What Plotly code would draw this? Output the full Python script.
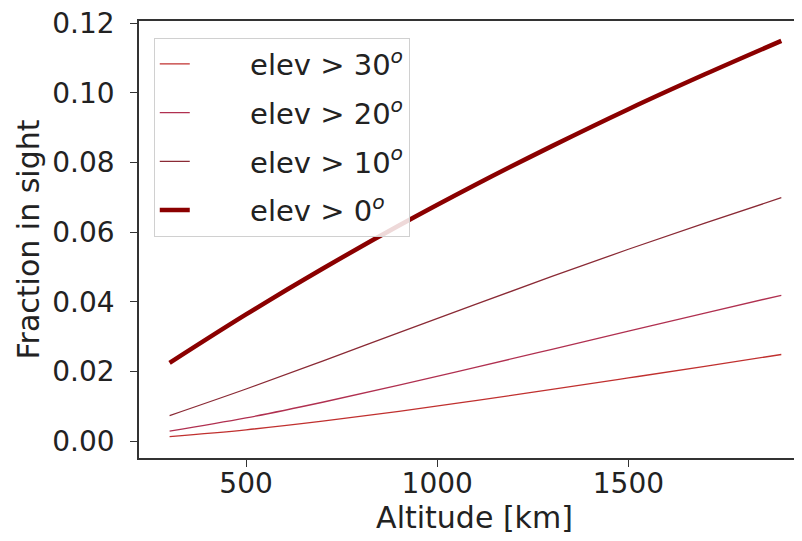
import plotly.graph_objects as go

altitude = [300, 500, 700, 900, 1100, 1300, 1500, 1700, 1900]
elev30 = [0.00134, 0.00329, 0.00578, 0.00860, 0.01165, 0.01487, 0.01817, 0.0215, 0.0249]
elev20 = [0.00291, 0.00669, 0.0112, 0.0161, 0.0212, 0.0264, 0.0316, 0.0368, 0.0419]
elev10 = [0.00737, 0.0150, 0.0230, 0.0312, 0.0393, 0.0473, 0.0551, 0.0626, 0.0699]
elev0 = [0.0225, 0.0364, 0.0495, 0.0619, 0.0736, 0.0847, 0.0953, 0.1053, 0.1149]

pad = "&nbsp;" * 6
labels = [pad + "elev > 30<sup><i>o</i></sup>", pad + "elev > 20<sup><i>o</i></sup>",
          pad + "elev > 10<sup><i>o</i></sup>", pad + "elev > 0<sup><i>o</i></sup>"]
colors = ["#c0302f", "#b03050", "#8a2a35", "#8b0000"]
widths = [1.3, 1.3, 1.3, 4.5]
series = [elev30, elev20, elev10, elev0]

fig = go.Figure()
for i, (lab, ys) in enumerate(zip(labels, series)):
    fig.add_trace(go.Scatter(x=altitude, y=ys, mode="lines", name=lab,
                             legendgroup=str(i), line_shape="spline",
                             line=dict(color=colors[i], width=widths[i])))

font = "DejaVu Sans, Arial, sans-serif"
fig.update_layout(
    width=802, height=541,
    margin=dict(l=131, r=0, t=13, b=91),
    paper_bgcolor="white", plot_bgcolor="white",
    font=dict(family=font, size=28, color="#222222"),
    showlegend=True,
    legend=dict(x=0.022, y=0.962, xanchor="left", yanchor="top",
                bgcolor="rgba(255,255,255,0.85)", bordercolor="#d0d0d0", borderwidth=1,
                font=dict(size=29, color="#222222"), tracegroupgap=8),
    xaxis=dict(range=[220, 1975], tickvals=[500, 1000, 1500], automargin=False,
               ticks="outside", ticklen=7, tickwidth=1.2, tickcolor="#333",
               tickfont=dict(size=28), ticklabelstandoff=-7, ticklabeloverflow="allow",
               showline=True, linecolor="#333", linewidth=1.5, mirror=True,
               showgrid=False, zeroline=False,
               title=dict(text="Altitude [km]", standoff=2, font=dict(size=30))),
    yaxis=dict(range=[-0.0048, 0.1206], tickvals=[0, 0.02, 0.04, 0.06, 0.08, 0.10, 0.12],
               tickformat=".2f", automargin=False,
               ticks="outside", ticklen=7, tickwidth=1.2, tickcolor="#333",
               tickfont=dict(size=28), ticklabelstandoff=10, ticklabeloverflow="allow",
               showline=True, linecolor="#333", linewidth=1.5,
               showgrid=False, zeroline=False,
               title=dict(text="Fraction in sight", standoff=4, font=dict(size=30))),
)
fig.write_html("out.html")
